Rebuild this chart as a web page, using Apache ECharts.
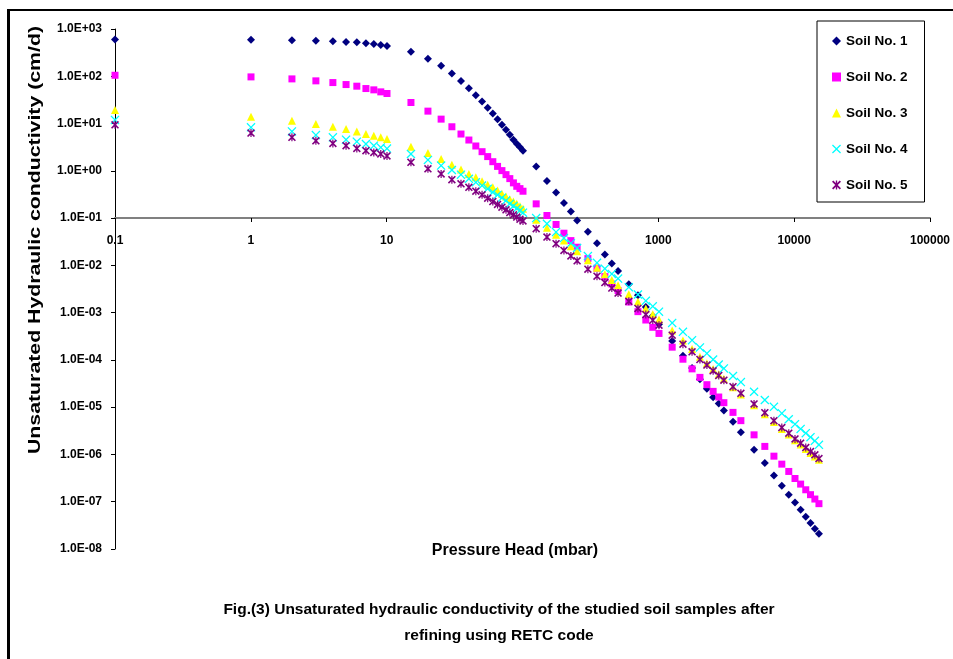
<!DOCTYPE html>
<html>
<head>
<meta charset="utf-8">
<script src="https://cdn.jsdelivr.net/npm/echarts@6/dist/echarts.min.js"></script>
<style>
html,body{margin:0;padding:0;background:#fff;}
#chart{width:953px;height:659px;}
</style>
</head>
<body>
<div id="chart"></div>
<script>
// Pressure head (mbar)
const X = [0.1,
  1,2,3,4,5,6,7,8,9,10,
  15,20,25,30,35,40,45,50,55,60,65,70,75,80,85,90,95,100,
  125,150,175,200,225,250,300,350,400,450,500,600,700,800,900,1000,
  1250,1500,1750,2000,2250,2500,2750,3000,3500,4000,
  5000,6000,7000,8000,9000,10000,11000,12000,13000,14000,15000];

// Unsaturated hydraulic conductivity (cm/d)
const SOIL1 = [603,
  594,575,566,550,533,522,501,483,459,437,
  331,236,166,115,79.4,55.6,39.8,29.2,21.5,16.3,12.4,9.44,7.40,5.81,4.55,3.75,3.16,2.67,
  1.24,0.612,0.347,0.209,0.138,0.0891,0.0513,0.0295,0.0170,0.0110,0.00759,0.00398,0.00234,0.00132,8.51e-4,5.69e-4,
  2.51e-4,1.23e-4,6.76e-5,3.89e-5,2.45e-5,1.62e-5,1.20e-5,8.51e-6,4.90e-6,2.95e-6,
  1.26e-6,6.61e-7,3.59e-7,2.19e-7,1.41e-7,9.66e-8,6.76e-8,4.83e-8,3.55e-8,2.69e-8,2.11e-8];

const SOIL2 = [105,
  97,88,80,73.6,66.8,61.7,55.0,51.6,46.8,43.2,
  27.9,18.3,12.4,8.55,6.0,4.48,3.35,2.54,2.0,1.56,1.24,1.01,0.83,0.684,0.556,0.47,0.42,0.37,
  0.20,0.1135,0.0733,0.0479,0.0334,0.0242,0.0139,0.0087,0.00578,0.00404,0.00293,0.00168,0.00105,6.98e-4,4.9e-4,3.63e-4,
  1.86e-4,1.035e-4,6.46e-5,4.27e-5,2.99e-5,2.16e-5,1.64e-5,1.245e-5,7.76e-6,5.19e-6,
  2.6e-6,1.48e-6,9.2e-7,6.24e-7,4.37e-7,3.1e-7,2.36e-7,1.79e-7,1.41e-7,1.14e-7,9.1e-8];

const SOIL3 = [19.3,
  13.9,11.5,9.8,8.57,7.66,6.8,6.0,5.53,5.1,4.71,
  3.24,2.39,1.78,1.35,1.06,0.86,0.73,0.60,0.51,0.449,0.382,0.326,0.286,0.25,0.224,0.20,0.178,0.158,
  0.092,0.0624,0.0445,0.0337,0.0254,0.020,0.0129,0.0089,0.00646,0.0049,0.0038,0.00245,0.0017,0.00123,9.3e-4,7.2e-4,
  4.2e-4,2.57e-4,1.7e-4,1.17e-4,8.5e-5,6.45e-5,5.0e-5,3.98e-5,2.63e-5,1.86e-5,
  1.1e-5,7.1e-6,4.84e-6,3.47e-6,2.63e-6,2.0e-6,1.62e-6,1.3e-6,1.07e-6,9.1e-7,7.7e-7];

const SOIL4 = [11.9,
  8.3,6.8,5.7,5.1,4.55,4.13,3.69,3.4,3.13,2.95,
  2.27,1.70,1.29,1.04,0.83,0.676,0.571,0.488,0.415,0.352,0.309,0.269,0.235,0.20,0.18,0.16,0.145,0.13,
  0.10,0.0759,0.0505,0.0377,0.0292,0.0233,0.0157,0.0113,0.0085,0.00659,0.00525,0.00345,0.00242,0.00178,0.00136,0.00105,
  6.07e-4,3.92e-4,2.62e-4,1.84e-4,1.37e-4,1.02e-4,8.0e-5,6.6e-5,4.57e-5,3.39e-5,
  2.12e-5,1.42e-5,1.02e-5,7.4e-6,5.56e-6,4.37e-6,3.47e-6,2.82e-6,2.32e-6,1.94e-6,1.6e-6];

const SOIL5 = [9.4,
  6.3,5.1,4.3,3.8,3.4,2.98,2.67,2.45,2.27,2.06,
  1.51,1.10,0.86,0.65,0.53,0.449,0.37,0.31,0.263,0.224,0.194,0.17,0.15,0.131,0.117,0.105,0.095,0.087,
  0.0596,0.0398,0.0287,0.0207,0.0158,0.0125,0.0083,0.00589,0.00432,0.00331,0.0026,0.00174,0.00123,9.1e-4,6.9e-4,5.42e-4,
  3.33e-4,2.15e-4,1.48e-4,1.02e-4,7.76e-5,5.89e-5,4.68e-5,3.72e-5,2.71e-5,1.96e-5,
  1.17e-5,7.66e-6,5.19e-6,3.7e-6,2.82e-6,2.13e-6,1.73e-6,1.4e-6,1.15e-6,9.8e-7,8.2e-7];

const SERIES_NAMES = ['Soil No. 1','Soil No. 2','Soil No. 3','Soil No. 4','Soil No. 5'];
const X_TICKS = ['0.1','1','10','100','1000','10000','100000'];           // 10^-1 .. 10^5
const Y_TICKS = ['1.0E-08','1.0E-07','1.0E-06','1.0E-05','1.0E-04','1.0E-03',
                 '1.0E-02','1.0E-01','1.0E+00','1.0E+01','1.0E+02','1.0E+03']; // 10^-8 .. 10^3

const FONT = 'Liberation Sans, Arial, sans-serif';
const crossPath = 'path://M0,1L1,0L5,4L9,0L10,1L6,5L10,9L9,10L5,6L1,10L0,9L4,5Z';
const starPath = 'path://M0,1.4L1.4,0L5,3.6L8.6,0L10,1.4L6.4,5L10,8.6L8.6,10L5,6.4L1.4,10L0,8.6L3.6,5Z M4.25,0L5.75,0L5.75,10L4.25,10Z';

const styles = [
  {symbol:'diamond', size:8, color:'#000080'},
  {symbol:'rect', size:7, color:'#FF00FF'},
  {symbol:'triangle', size:8, color:'#FFFF00'},
  {symbol:crossPath, size:9, color:'#00FFFF'},
  {symbol:starPath, size:8, color:'#800080'}
];
const allData = [SOIL1, SOIL2, SOIL3, SOIL4, SOIL5];

const chart = echarts.init(document.getElementById('chart'), null, {renderer:'canvas'});
const option = {
  animation: false,
  backgroundColor: '#ffffff',
  textStyle: {fontFamily: FONT},
  title: {
    text: 'Fig.(3) Unsaturated hydraulic conductivity of the studied soil samples after\nrefining using RETC code',
    left: 494, top: 592, textAlign: 'center',
    textStyle: {fontSize: 15.5, fontWeight: 'bold', color: '#000', lineHeight: 26, fontFamily: FONT}
  },
  legend: {
    orient: 'vertical', left: 817, top: 21,
    padding: [13, 17, 10, 15],
    itemGap: 22, itemWidth: 9, itemHeight: 9,
    borderColor: '#000', borderWidth: 1, backgroundColor: '#fff',
    textStyle: {fontSize: 13.5, fontWeight: 'bold', color: '#000', fontFamily: FONT},
    data: SERIES_NAMES
  },
  grid: [
    {left: 115, top: 29, right: 22, bottom: 110},
    {left: 115, top: 217, right: 22, height: 1}
  ],
  xAxis: [
    {gridIndex: 0, type: 'log', logBase: 10, min: 0.1, max: 100000, interval: 1, show: false},
    {gridIndex: 1, type: 'log', logBase: 10, min: 0.1, max: 100000, interval: 1,
     axisLine: {show: true, lineStyle: {color: '#808080', width: 2}},
     axisTick: {show: true, length: 4, lineStyle: {color: '#000', width: 1}},
     minorTick: {show: false},
     splitLine: {show: false},
     axisLabel: {margin: 17, color: '#000', fontWeight: 'bold', fontSize: 12, fontFamily: FONT,
       formatter: v => X_TICKS[Math.round(Math.log10(v)) + 1]}
    }
  ],
  yAxis: [
    {gridIndex: 0, type: 'log', logBase: 10, min: 1e-8, max: 1e3, interval: 1,
     axisLine: {show: true, lineStyle: {color: '#000', width: 1}},
     axisTick: {show: true, length: 4, lineStyle: {color: '#000', width: 1}},
     minorTick: {show: false},
     splitLine: {show: false},
     axisLabel: {margin: 13, color: '#000', fontWeight: 'bold', fontSize: 12, fontFamily: FONT,
       formatter: v => Y_TICKS[Math.round(Math.log10(v)) + 8]}
    },
    {gridIndex: 1, type: 'value', show: false}
  ],
  graphic: [
    {type: 'rect', shape: {x: 7, y: 9, width: 3, height: 650}, style: {fill: '#000'}},
    {type: 'rect', shape: {x: 7, y: 9, width: 946, height: 2}, style: {fill: '#000'}},
    {type: 'text', x: 36, y: 240, rotation: Math.PI / 2, scaleX: 1.33,
     style: {text: 'Unsaturated Hydraulic conductivity (cm/d)', fill: '#000', font: 'bold 16px ' + FONT, align: 'center', verticalAlign: 'middle'}},
    {type: 'text', x: 515, y: 551,
     style: {text: 'Pressure Head (mbar)', fill: '#000', font: 'bold 16px ' + FONT, align: 'center', verticalAlign: 'middle'}}
  ],
  series: allData.map((d, i) => ({
    name: SERIES_NAMES[i],
    type: 'scatter',
    xAxisIndex: 0, yAxisIndex: 0,
    clip: false,
    symbol: styles[i].symbol,
    symbolSize: styles[i].size,
    itemStyle: {color: styles[i].color, opacity: 1},
    data: X.map((x, k) => [x, d[k]])
  }))
};
chart.setOption(option);
</script>
</body>
</html>
